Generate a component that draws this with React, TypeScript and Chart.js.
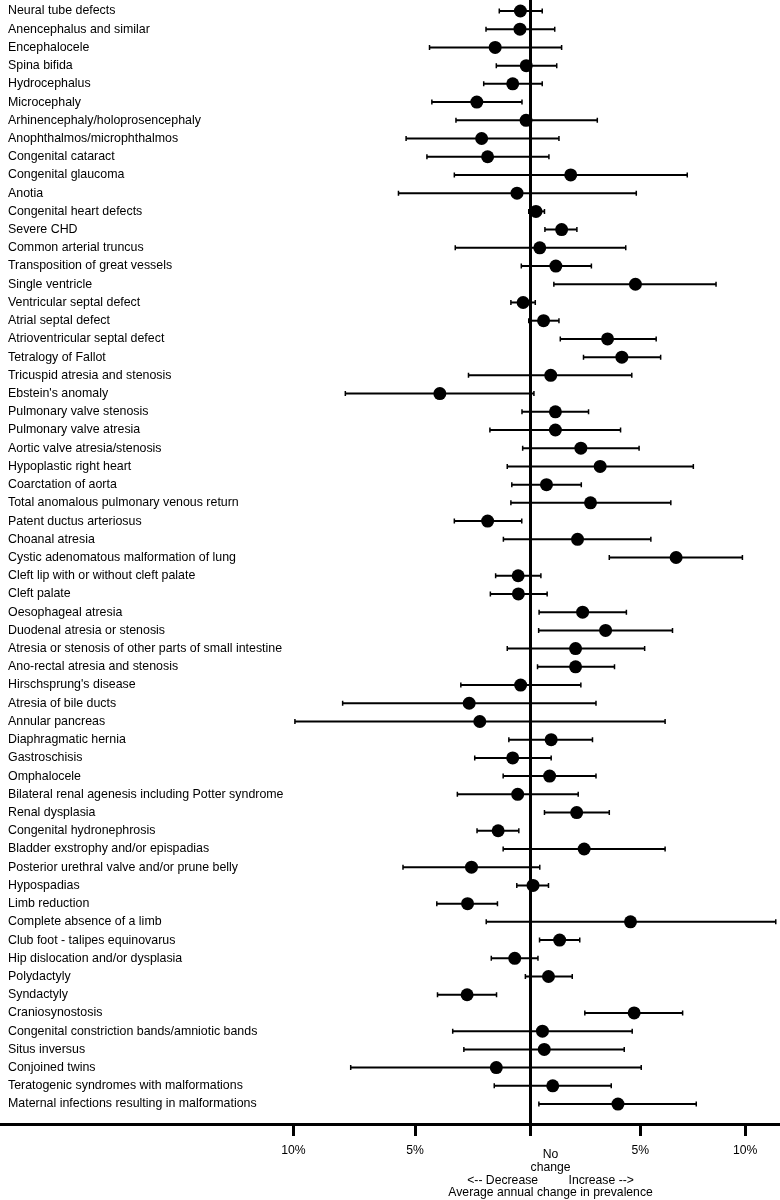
import React, { useEffect, useRef } from "react";
import { Chart, registerables } from "chart.js";

Chart.register(...registerables);

const FONT_FAMILY = '"Liberation Sans", Arial, Helvetica, sans-serif';

const categories = [
  "Neural tube defects",
  "Anencephalus and similar",
  "Encephalocele",
  "Spina bifida",
  "Hydrocephalus",
  "Microcephaly",
  "Arhinencephaly/holoprosencephaly",
  "Anophthalmos/microphthalmos",
  "Congenital cataract",
  "Congenital glaucoma",
  "Anotia",
  "Congenital heart defects",
  "Severe CHD",
  "Common arterial truncus",
  "Transposition of great vessels",
  "Single ventricle",
  "Ventricular septal defect",
  "Atrial septal defect",
  "Atrioventricular septal defect",
  "Tetralogy of Fallot",
  "Tricuspid atresia and stenosis",
  "Ebstein's anomaly",
  "Pulmonary valve stenosis",
  "Pulmonary valve atresia",
  "Aortic valve atresia/stenosis",
  "Hypoplastic right heart",
  "Coarctation of aorta",
  "Total anomalous pulmonary venous return",
  "Patent ductus arteriosus",
  "Choanal atresia",
  "Cystic adenomatous malformation of lung",
  "Cleft lip with or without cleft palate",
  "Cleft palate",
  "Oesophageal atresia",
  "Duodenal atresia or stenosis",
  "Atresia or stenosis of other parts of small intestine",
  "Ano-rectal atresia and stenosis",
  "Hirschsprung's disease",
  "Atresia of bile ducts",
  "Annular pancreas",
  "Diaphragmatic hernia",
  "Gastroschisis",
  "Omphalocele",
  "Bilateral renal agenesis including Potter syndrome",
  "Renal dysplasia",
  "Congenital hydronephrosis",
  "Bladder exstrophy and/or epispadias",
  "Posterior urethral valve and/or prune belly",
  "Hypospadias",
  "Limb reduction",
  "Complete absence of a limb",
  "Club foot - talipes equinovarus",
  "Hip dislocation and/or dysplasia",
  "Polydactyly",
  "Syndactyly",
  "Craniosynostosis",
  "Congenital constriction bands/amniotic bands",
  "Situs inversus",
  "Conjoined twins",
  "Teratogenic syndromes with malformations",
  "Maternal infections resulting in malformations",
];

// Average annual change in prevalence (%)
const estimates = [
  -0.45, -0.47, -1.56, -0.19, -0.79, -2.36, -0.2, -2.15, -1.89, 1.8,
  -0.6, 0.24, 1.39, 0.41, 1.13, 4.77, -0.33, 0.58, 3.48, 4.14,
  0.9, -3.95, 1.11, 1.11, 2.26, 3.14, 0.71, 2.7, -1.89, 2.11,
  6.68, -0.55, -0.54, 2.34, 3.39, 2.02, 2.02, -0.44, -2.69, -2.23,
  0.92, -0.79, 0.85, -0.57, 2.07, -1.43, 2.41, -2.59, 0.11, -2.76,
  4.54, 1.3, -0.7, 0.8, -2.78, 4.71, 0.53, 0.61, -1.51, 0.99,
  3.96,
];

const lowerCI = [
  -1.38, -1.96, -4.39, -1.51, -2.06, -4.29, -3.26, -5.38, -4.5, -3.33,
  -5.7, -0.08, 0.64, -3.29, -0.41, 1.04, -0.87, -0.08, 1.33, 2.38,
  -2.72, -7.9, -0.38, -1.79, -0.35, -1.03, -0.83, -0.87, -3.33, -1.2,
  3.56, -1.54, -1.77, 0.38, 0.36, -1.03, 0.31, -3.05, -8.01, -9.94,
  -0.96, -2.45, -1.21, -3.2, 0.62, -2.35, -1.21, -5.51, -0.61, -4.08,
  -1.95, 0.4, -1.73, -0.23, -4.05, 2.44, -3.4, -2.92, -7.68, -1.6,
  0.37,
];

const upperCI = [
  0.52, 1.08, 1.39, 1.17, 0.52, -0.38, 3.01, 1.27, 0.82, 7.21,
  4.81, 0.62, 2.08, 4.32, 2.74, 8.59, 0.21, 1.27, 5.74, 5.95,
  4.6, 0.15, 2.61, 4.08, 4.94, 7.5, 2.28, 6.43, -0.39, 5.49,
  9.87, 0.46, 0.74, 4.35, 6.51, 5.2, 3.8, 2.26, 2.95, 6.16,
  2.79, 0.92, 2.95, 2.14, 3.56, -0.52, 6.16, 0.41, 0.8, -1.46,
  11.51, 2.21, 0.33, 1.87, -1.5, 6.99, 4.62, 4.25, 5.04, 3.65,
  7.64,
];

const tickPercents = [-10, -5, 0, 5, 10];
const tickLabels = ["10%", "5%", "", "5%", "10%"];
const zeroLabel = ["No", "change"];
const directionLabel = "<-- Decrease         Increase -->";
const axisTitle = "Average annual change in prevalence";

const toRatio = (p: number) => 1 + p / 100;

const errorBarPlugin = {
  id: "errorBars",
  beforeDatasetsDraw(chart: any) {
    const xs = chart.scales.x;
    const ys = chart.scales.y;
    const ctx = chart.ctx;
    ctx.save();
    ctx.strokeStyle = "#000";
    categories.forEach((_, i) => {
      const y = ys.getPixelForValue(i);
      const x1 = xs.getPixelForValue(toRatio(lowerCI[i]));
      const x2 = xs.getPixelForValue(toRatio(upperCI[i]));
      ctx.lineWidth = 2;
      ctx.beginPath();
      ctx.moveTo(x1, y);
      ctx.lineTo(x2, y);
      ctx.stroke();
      ctx.lineWidth = 1.5;
      ctx.beginPath();
      ctx.moveTo(x1, y - 2.5);
      ctx.lineTo(x1, y + 2.5);
      ctx.moveTo(x2, y - 2.5);
      ctx.lineTo(x2, y + 2.5);
      ctx.stroke();
    });
    ctx.restore();
  },
};

const bottomTextPlugin = {
  id: "bottomText",
  afterDraw(chart: any) {
    const xs = chart.scales.x;
    const ctx = chart.ctx;
    const cx = xs.getPixelForValue(1) + 20;
    const base = chart.chartArea.bottom;
    ctx.save();
    ctx.fillStyle = "#000";
    ctx.font = `12.2px ${FONT_FAMILY}`;
    ctx.textAlign = "center";
    ctx.textBaseline = "middle";
    zeroLabel.forEach((t, k) => ctx.fillText(t, cx, base + 31 + k * 13));
    ctx.fillText(directionLabel, cx, base + 57);
    ctx.fillText(axisTitle, cx, base + 69);
    ctx.restore();
  },
};

export default function App() {
  const canvasRef = useRef<HTMLCanvasElement | null>(null);

  useEffect(() => {
    document.body.style.margin = "0";
    document.body.style.overflow = "hidden";
    if (!canvasRef.current) return;
    const chart = new Chart(canvasRef.current, {
      type: "scatter",
      data: {
        datasets: [
          {
            data: estimates.map((p, i) => ({ x: toRatio(p), y: i })),
            pointRadius: 6.5,
            pointHoverRadius: 6.5,
            backgroundColor: "#000",
            borderColor: "#000",
            borderWidth: 0,
            showLine: false,
            clip: false,
          },
        ],
      },
      options: {
        responsive: false,
        animation: false,
        events: [],
        layout: { padding: 0, autoPadding: false },
        plugins: {
          legend: { display: false },
          tooltip: { enabled: false },
        },
        scales: {
          x: {
            type: "logarithmic",
            position: "bottom",
            min: 0.7923,
            max: 1.1172,
            afterBuildTicks: (s: any) => {
              s.ticks = tickPercents.map((p) => ({ value: toRatio(p) }));
            },
            afterFit: (s: any) => {
              s.height = 76;
              s.paddingLeft = 0;
              s.paddingRight = 0;
            },
            ticks: {
              autoSkip: false,
              maxRotation: 0,
              padding: 7.8,
              color: "#000",
              font: { family: FONT_FAMILY, size: 12.2 },
              callback: (_v: any, i: number) => tickLabels[i],
            },
            grid: {
              color: (c: any) =>
                c.tick && Math.abs(c.tick.value - 1) < 1e-9 ? "#000" : "rgba(0,0,0,0)",
              lineWidth: 3,
              drawTicks: true,
              tickLength: 12,
              tickWidth: 3,
              tickColor: "#000",
            },
            border: { display: true, color: "#000", width: 3 },
          },
          y: {
            type: "linear",
            reverse: true,
            min: -0.604,
            max: 61.096,
            afterBuildTicks: (s: any) => {
              s.ticks = categories.map((_, i) => ({ value: i }));
            },
            afterFit: (s: any) => {
              s.width = 0;
              s.paddingTop = 0;
              s.paddingBottom = 0;
            },
            ticks: {
              mirror: true,
              padding: 8,
              autoSkip: false,
              color: "#000",
              font: { family: FONT_FAMILY, size: 12.4 },
              callback: (v: any) => categories[v] ?? "",
            },
            grid: { display: false, drawTicks: false },
            border: { display: false },
          },
        },
      } as any,
      plugins: [errorBarPlugin, bottomTextPlugin],
    });
    return () => chart.destroy();
  }, []);

  return (
    <div style={{ width: 780, height: 1200, background: "#fff" }}>
      <canvas ref={canvasRef} width={780} height={1200} style={{ display: "block" }} />
    </div>
  );
}
